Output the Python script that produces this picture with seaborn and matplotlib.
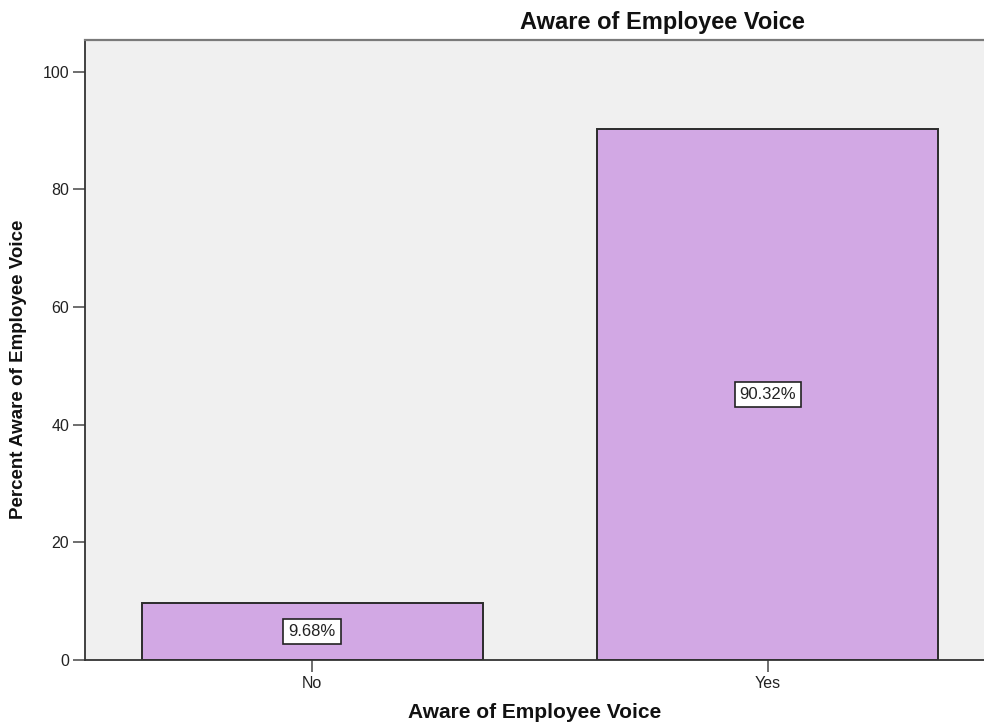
import matplotlib
matplotlib.use("Agg")
import matplotlib.pyplot as plt
import seaborn as sns
import pandas as pd

# Survey result: share of respondents aware of Employee Voice
categories = ["No", "Yes"]
percents = [9.68, 90.32]
y_ticks = [0, 20, 40, 60, 80, 100]

df = pd.DataFrame({"Aware of Employee Voice": categories, "Percent": percents})

sns.set_theme(style="white")
plt.rcParams["font.family"] = ["Liberation Sans", "DejaVu Sans"]

fig = plt.figure(figsize=(9.84, 7.26), dpi=100)
ax = fig.add_axes([85 / 984, 66 / 726, 910 / 984, 620 / 726])
ax.set_facecolor("#F0F0F0")

sns.barplot(data=df, x="Aware of Employee Voice", y="Percent", order=categories,
            color="#D2A8E4", saturation=1, width=0.748, edgecolor="#2B2B2B",
            linewidth=1.4, ax=ax)

ax.set_xlim(-0.498, 1.498)
ax.set_ylim(0, 105.4)
ax.set_yticks(y_ticks)
ax.set_yticklabels([str(t) for t in y_ticks])

for i, v in enumerate(percents):
    ax.text(i, v / 2, f"{v:.2f}%", ha="center", va="center", fontsize=12,
            color="#222222",
            bbox=dict(boxstyle="square,pad=0.3", facecolor="white",
                      edgecolor="#222222", linewidth=1.2))

for side in ["left", "bottom"]:
    ax.spines[side].set_color("#333333")
    ax.spines[side].set_linewidth(1.3)
ax.spines["top"].set_color("#7A7A7A")
ax.spines["top"].set_linewidth(1.6)
ax.spines["right"].set_visible(False)

ax.tick_params(axis="both", which="both", direction="out", length=8.5, width=1.2,
               color="#555555", labelsize=11.5, labelcolor="#222222", pad=3,
               left=True, bottom=True)

ax.set_xlabel("")
ax.set_ylabel("")
fig.text(535 / 984, 1 - 718 / 726, "Aware of Employee Voice", ha="center",
         va="baseline", fontsize=15, fontweight="bold", color="#111111")
fig.text(19 / 984, 1 - 369 / 726, "Percent Aware of Employee Voice",
         ha="center", va="center", rotation=90, fontsize=13.5,
         fontweight="bold", color="#111111")
fig.text(662 / 984, 1 - 28.5 / 726, "Aware of Employee Voice", ha="center",
         va="baseline", fontsize=17, fontweight="bold", color="#111111")

fig.savefig("out.png", dpi=100)
